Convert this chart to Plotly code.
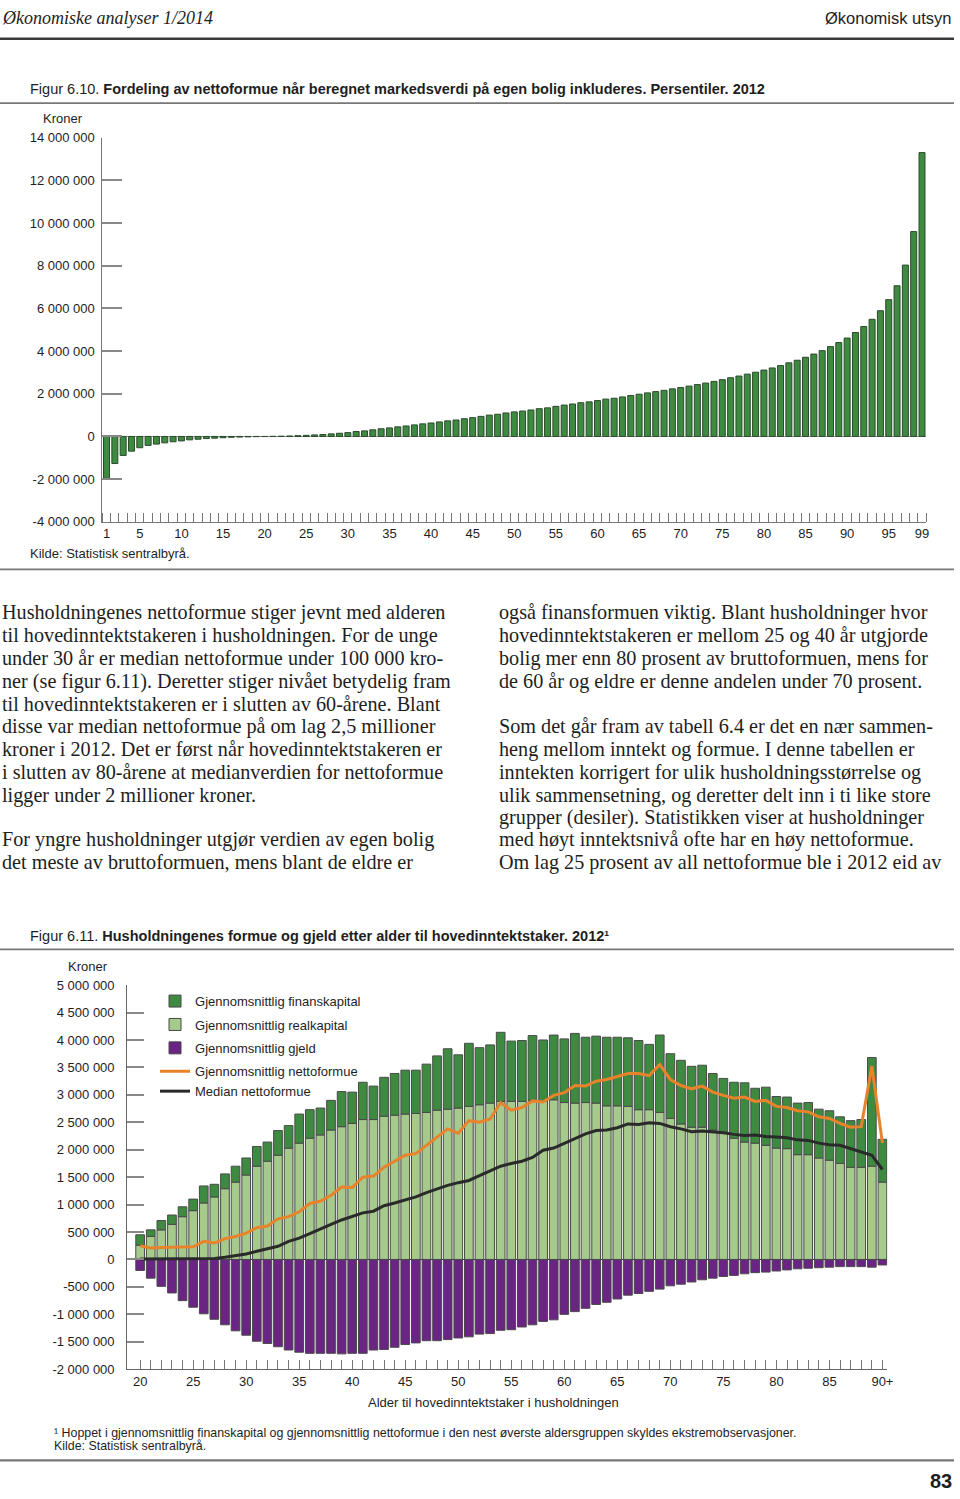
import plotly.graph_objects as go

W, H = 960, 1499

# ---------------- Figure 6.10 data (net wealth by percentile, million NOK) -------------
percentiles = list(range(1, 100))
net_wealth_pct = [
    -1.96, -1.27, -0.89, -0.69, -0.53, -0.42, -0.36, -0.30, -0.25, -0.21,
    -0.16, -0.13, -0.10, -0.08, -0.06, -0.04, -0.03, -0.02, -0.01, -0.005,
    0.003, 0.01, 0.02, 0.035, 0.05, 0.07, 0.09, 0.12, 0.15, 0.18,
    0.23, 0.26, 0.31, 0.36, 0.40, 0.45, 0.49, 0.54, 0.59, 0.63,
    0.68, 0.73, 0.77, 0.83, 0.88, 0.94, 1.00, 1.04, 1.10, 1.15,
    1.19, 1.24, 1.30, 1.34, 1.41, 1.47, 1.52, 1.58, 1.62, 1.68,
    1.75, 1.79, 1.85, 1.92, 1.98, 2.04, 2.10, 2.16, 2.23, 2.29,
    2.36, 2.43, 2.50, 2.58, 2.66, 2.75, 2.83, 2.92, 3.01, 3.11,
    3.21, 3.32, 3.45, 3.57, 3.71, 3.86, 4.02, 4.21, 4.40, 4.61,
    4.87, 5.15, 5.49, 5.89, 6.41, 7.06, 8.03, 9.60, 13.30,
]
pct_tickvals = [1, 5, 10, 15, 20, 25, 30, 35, 40, 45, 50, 55, 60, 65, 70, 75, 80, 85, 90, 95, 99]
y1_tickvals = [-4, -2, 0, 2, 4, 6, 8, 10, 12, 14]
y1_ticktext = ["-4 000 000", "-2 000 000", "0", "2 000 000", "4 000 000", "6 000 000",
               "8 000 000", "10 000 000", "12 000 000", "14 000 000"]

# ---------------- Figure 6.11 data (by age, million NOK) ----------------
ages = list(range(20, 91))
age_labels = [("90+" if a == 90 else (str(a) if a % 5 == 0 else "")) for a in ages]
real_capital = [
    0.26, 0.42, 0.54, 0.64, 0.78, 0.89, 1.03, 1.14, 1.29, 1.41,
    1.54, 1.70, 1.79, 1.90, 2.03, 2.12, 2.21, 2.27, 2.36, 2.42,
    2.48, 2.55, 2.55, 2.61, 2.63, 2.65, 2.66, 2.68, 2.72, 2.74,
    2.76, 2.79, 2.82, 2.85, 2.88, 2.88, 2.88, 2.90, 2.88, 2.91,
    2.86, 2.85, 2.86, 2.85, 2.80, 2.80, 2.79, 2.73, 2.73, 2.68,
    2.57, 2.47, 2.41, 2.41, 2.36, 2.32, 2.21, 2.14, 2.12, 2.08,
    2.03, 2.02, 1.91, 1.91, 1.85, 1.81, 1.75, 1.68, 1.68, 1.70,
    1.41,
]
fin_capital = [
    0.19, 0.12, 0.17, 0.17, 0.18, 0.21, 0.31, 0.23, 0.27, 0.29,
    0.31, 0.36, 0.35, 0.45, 0.41, 0.53, 0.52, 0.49, 0.54, 0.64,
    0.57, 0.68, 0.61, 0.71, 0.76, 0.80, 0.79, 0.88, 0.99, 1.10,
    0.97, 1.15, 1.04, 1.06, 1.26, 1.10, 1.11, 1.18, 1.12, 1.18,
    1.16, 1.27, 1.19, 1.22, 1.25, 1.25, 1.25, 1.26, 1.19, 1.41,
    1.18, 1.16, 1.11, 1.13, 1.03, 0.98, 1.02, 1.08, 1.00, 1.06,
    0.94, 0.94, 0.94, 0.95, 0.89, 0.90, 0.85, 0.85, 0.87, 1.98,
    0.78,
]
debt = [
    -0.20, -0.34, -0.49, -0.61, -0.75, -0.87, -0.99, -1.09, -1.19, -1.30,
    -1.38, -1.49, -1.53, -1.59, -1.65, -1.69, -1.71, -1.71, -1.71, -1.72,
    -1.71, -1.71, -1.65, -1.64, -1.60, -1.55, -1.52, -1.48, -1.48, -1.46,
    -1.43, -1.41, -1.36, -1.35, -1.29, -1.28, -1.23, -1.19, -1.13, -1.10,
    -1.00, -0.95, -0.89, -0.82, -0.78, -0.72, -0.65, -0.62, -0.58, -0.54,
    -0.48, -0.45, -0.41, -0.37, -0.34, -0.31, -0.29, -0.26, -0.24, -0.23,
    -0.21, -0.19, -0.17, -0.16, -0.15, -0.14, -0.13, -0.13, -0.13, -0.14,
    -0.10,
]
mean_net = [
    0.25, 0.21, 0.22, 0.22, 0.23, 0.23, 0.33, 0.30, 0.38, 0.42,
    0.48, 0.58, 0.61, 0.74, 0.78, 0.87, 1.02, 1.06, 1.17, 1.32,
    1.31, 1.50, 1.52, 1.68, 1.79, 1.90, 1.93, 2.08, 2.23, 2.38,
    2.30, 2.53, 2.50, 2.56, 2.86, 2.72, 2.77, 2.89, 2.87, 2.99,
    3.04, 3.17, 3.16, 3.25, 3.28, 3.33, 3.39, 3.39, 3.35, 3.55,
    3.28, 3.17, 3.11, 3.16, 3.05, 2.99, 2.94, 2.96, 2.88, 2.90,
    2.79, 2.77, 2.71, 2.69, 2.60, 2.57, 2.48, 2.41, 2.42, 3.52,
    2.12,
]
median_net = [
    0.01, 0.01, 0.01, 0.01, 0.01, 0.01, 0.02, 0.02, 0.04, 0.07,
    0.10, 0.15, 0.20, 0.24, 0.33, 0.39, 0.47, 0.56, 0.64, 0.72,
    0.78, 0.85, 0.88, 0.98, 1.03, 1.08, 1.14, 1.22, 1.29, 1.35,
    1.40, 1.44, 1.53, 1.61, 1.70, 1.75, 1.79, 1.86, 1.99, 2.03,
    2.12, 2.20, 2.29, 2.35, 2.36, 2.40, 2.47, 2.46, 2.49, 2.48,
    2.42, 2.38, 2.33, 2.34, 2.33, 2.31, 2.28, 2.26, 2.27, 2.24,
    2.23, 2.22, 2.18, 2.17, 2.12, 2.09, 2.08, 2.02, 1.97, 1.90,
    1.64,
]
y2_tickvals = [-2, -1.5, -1, -0.5, 0, 0.5, 1, 1.5, 2, 2.5, 3, 3.5, 4, 4.5, 5]
y2_ticktext = ["-2 000 000", "-1 500 000", "-1 000 000", "-500 000", "0", "500 000",
               "1 000 000", "1 500 000", "2 000 000", "2 500 000", "3 000 000",
               "3 500 000", "4 000 000", "4 500 000", "5 000 000"]

SANS = "Liberation Sans, Arial, sans-serif"
SERIF = "Liberation Serif, Times New Roman, serif"
TXT = "#1e1e1e"
GREEN = "#3d8a40"
LIGHT = "#a5ca8c"
PURPLE = "#6a2483"
ORANGE = "#e8832c"
BLACKL = "#2a2a2a"


def fx(x):
    return x / W


def fy(y):
    return 1 - y / H


fig = go.Figure()

# ---- Figure 6.10
fig.add_trace(go.Bar(
    x=percentiles, y=net_wealth_pct, xaxis="x", yaxis="y", width=0.72,
    marker=dict(color=GREEN, line=dict(color="#2b4a2c", width=1)),
    showlegend=False, name="Nettoformue",
))

# ---- Figure 6.11
fig.add_trace(go.Bar(
    x=ages, y=real_capital, xaxis="x2", yaxis="y2", width=0.82,
    marker=dict(color=LIGHT, line=dict(color="#4a4a4a", width=1)),
    name="Gjennomsnittlig realkapital", legendrank=2, legendgroup="g2",
))
fig.add_trace(go.Bar(
    x=ages, y=fin_capital, xaxis="x2", yaxis="y2", width=0.82,
    marker=dict(color=GREEN, line=dict(color="#4a4a4a", width=1)),
    name="Gjennomsnittlig finanskapital", legendrank=1, legendgroup="g1",
))
fig.add_trace(go.Bar(
    x=ages, y=debt, xaxis="x2", yaxis="y2", width=0.82,
    marker=dict(color=PURPLE, line=dict(color="#4a4a4a", width=1)),
    name="Gjennomsnittlig gjeld", legendrank=3, legendgroup="g3",
))
fig.add_trace(go.Scatter(
    x=ages, y=mean_net, xaxis="x2", yaxis="y2", mode="lines",
    line=dict(color=ORANGE, width=3), name="Gjennomsnittlig nettoformue",
    legendrank=4, legendgroup="g4",
))
fig.add_trace(go.Scatter(
    x=ages, y=median_net, xaxis="x2", yaxis="y2", mode="lines",
    line=dict(color=BLACKL, width=3), name="Median nettoformue",
    legendrank=5, legendgroup="g4",
))

tickfont = dict(family=SANS, size=13, color=TXT)

fig.update_layout(
    width=W, height=H,
    margin=dict(l=0, r=0, t=0, b=0),
    paper_bgcolor="white", plot_bgcolor="white",
    barmode="relative",
    font=dict(family=SANS, size=13, color=TXT),
    xaxis=dict(
        domain=[fx(103), fx(932)], range=[0.5, 99.5], anchor="y",
        showgrid=False, zeroline=False, showline=True, linecolor="#777", linewidth=1,
        tickmode="array", tickvals=pct_tickvals, ticks="", tickfont=tickfont,
        minor=dict(ticks="inside", tickmode="linear", tick0=0.5, dtick=1, ticklen=9,
                   tickcolor="#777", tickwidth=1, showgrid=False),
    ),
    yaxis=dict(
        domain=[fy(520), fy(132)], range=[-4, 14], anchor="x",
        showgrid=False, zeroline=True, zerolinecolor="#999", zerolinewidth=1,
        showline=True, linecolor="#777", linewidth=1,
        tickmode="array", tickvals=y1_tickvals, ticktext=y1_ticktext,
        ticks="inside", ticklen=20, tickcolor="#888", tickwidth=1.5,
        tickfont=tickfont, ticklabelstandoff=4,
    ),
    xaxis2=dict(
        domain=[fx(128), fx(893)], range=[18.78, 90.47], anchor="y2",
        showgrid=False, zeroline=False, showline=True, linecolor="#666", linewidth=1,
        tickmode="array", tickvals=ages, ticktext=age_labels,
        ticks="inside", ticklen=9, tickcolor="#777", tickwidth=1, tickfont=tickfont,
    ),
    yaxis2=dict(
        domain=[fy(1376), fy(988)], range=[-2, 5], anchor="x2",
        showgrid=False, zeroline=True, zerolinecolor="#333", zerolinewidth=1,
        showline=True, linecolor="#666", linewidth=1,
        tickmode="array", tickvals=y2_tickvals, ticktext=y2_ticktext,
        ticks="inside", ticklen=17, tickcolor="#888", tickwidth=1.5,
        tickfont=tickfont, ticklabelstandoff=9,
    ),
    legend=dict(
        x=fx(156), y=fy(989), xanchor="left", yanchor="top",
        bgcolor="rgba(0,0,0,0)", font=dict(family=SANS, size=13, color=TXT),
        tracegroupgap=3.5, traceorder="grouped",
    ),
)

# ---- horizontal rules
rules = [(32, 2.5, "#3a3a3a"), (97, 1.8, "#777"), (568, 1.8, "#777"),
         (952, 1.8, "#777"), (1468, 2.2, "#777")]
for y, w, c in rules:
    fig.add_shape(type="line", xref="paper", yref="paper", x0=0, x1=1,
                  y0=fy(y), y1=fy(y), line=dict(color=c, width=w))

anns = []


def ann(text, x, y, size=13, family=SANS, color=TXT, xanchor="left"):
    anns.append(dict(text=text, x=fx(x), y=fy(y), xref="paper", yref="paper",
                     xanchor=xanchor, yanchor="middle", showarrow=False,
                     font=dict(family=family, size=size, color=color)))


# header
ann("<i>Økonomiske analyser 1/2014</i>", 0, 11, size=18, family=SERIF)
ann("Økonomisk utsyn", 960, 11, size=16.5, xanchor="right")

# figure 6.10 texts
ann("Figur 6.10. <b>Fordeling av nettoformue når beregnet markedsverdi på egen bolig inkluderes. Persentiler. 2012</b>",
    28, 83, size=14.5)
ann("Kroner", 63, 113, xanchor="center")
ann("Kilde: Statistisk sentralbyrå.", 28, 552)

# body text
left_lines = [
    (612, "Husholdningenes nettoformue stiger jevnt med alderen"),
    (635, "til hovedinntektstakeren i husholdningen. For de unge"),
    (658, "under 30 år er median nettoformue under 100 000 kro-"),
    (681, "ner (se figur 6.11). Deretter stiger nivået betydelig fram"),
    (704, "til hovedinntektstakeren er i slutten av 60-årene. Blant"),
    (727, "disse var median nettoformue på om lag 2,5 millioner"),
    (750, "kroner i 2012. Det er først når hovedinntektstakeren er"),
    (773, "i slutten av 80-årene at medianverdien for nettoformue"),
    (796, "ligger under 2 millioner kroner."),
    (841, "For yngre husholdninger utgjør verdien av egen bolig"),
    (864, "det meste av bruttoformuen, mens blant de eldre er"),
]
right_lines = [
    (612, "også finansformuen viktig. Blant husholdninger hvor"),
    (635, "hovedinntektstakeren er mellom 25 og 40 år utgjorde"),
    (658, "bolig mer enn 80 prosent av bruttoformuen, mens for"),
    (681, "de 60 år og eldre er denne andelen under 70 prosent."),
    (727, "Som det går fram av tabell 6.4 er det en nær sammen-"),
    (750, "heng mellom inntekt og formue. I denne tabellen er"),
    (773, "inntekten korrigert for ulik husholdningsstørrelse og"),
    (796, "ulik sammensetning, og deretter delt inn i ti like store"),
    (819, "grupper (desiler). Statistikken viser at husholdninger"),
    (841, "med høyt inntektsnivå ofte har en høy nettoformue."),
    (864, "Om lag 25 prosent av all nettoformue ble i 2012 eid av"),
]
for y, t in left_lines:
    ann(t, 0, y, size=20.2, family=SERIF)
for y, t in right_lines:
    ann(t, 500, y, size=20.2, family=SERIF)

# figure 6.11 texts
ann("Figur 6.11. <b>Husholdningenes formue og gjeld etter alder til hovedinntektstaker. 2012¹</b>",
    28, 938, size=14.5)
ann("Kroner", 89, 969, xanchor="center")
ann("Alder til hovedinntektstaker i husholdningen", 497, 1410, xanchor="center")
ann("¹ Hoppet i gjennomsnittlig finanskapital og gjennomsnittlig nettoformue i den nest øverste aldersgruppen skyldes ekstremobservasjoner.",
    52, 1440, size=12.4)
ann("Kilde: Statistisk sentralbyrå.", 52, 1454, size=12.4)
ann("<b>83</b>", 960, 1489, size=20, xanchor="right")

fig.update_layout(annotations=anns)
fig.write_html("out.html", post_script="document.body.style.margin='0';document.body.style.padding='0';")
